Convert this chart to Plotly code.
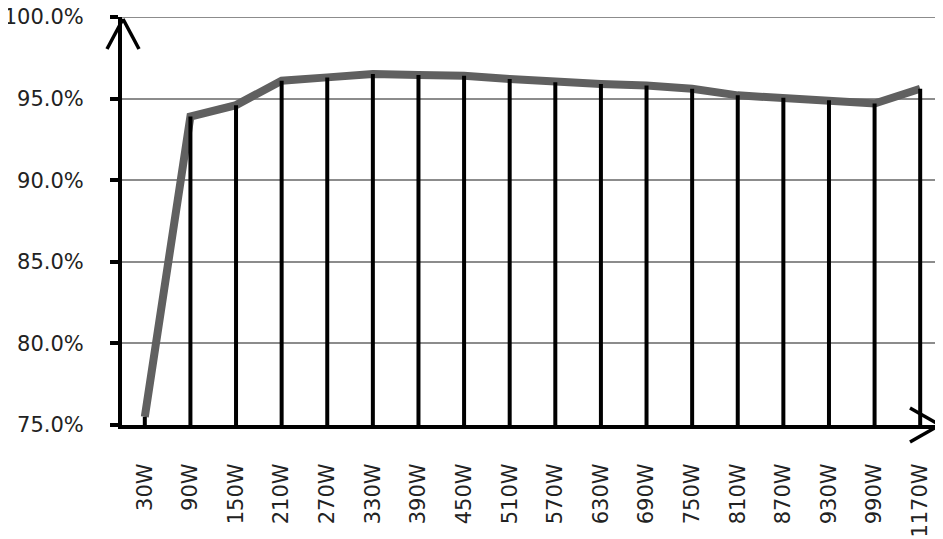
import plotly.graph_objects as go

categories = ["30W", "90W", "150W", "210W", "270W", "330W", "390W", "450W", "510W",
              "570W", "630W", "690W", "750W", "810W", "870W", "930W", "990W", "1170W"]
efficiency = [75.5, 93.9, 94.6, 96.1, 96.3, 96.5, 96.45, 96.4, 96.2,
              96.0, 95.9, 95.8, 95.6, 95.2, 95.05, 94.9, 94.7, 95.6]
y_ticks = [75, 80, 85, 90, 95, 100]
y_tick_labels = ["75.0%", "80.0%", "85.0%", "90.0%", "95.0%", "100.0%"]
y_min = 75

# page body has an 8px margin; size the figure so it fits the 943x539 window
OFF = 8
W, H = 943 - OFF, 539 - OFF
PLOT_L, PLOT_T, PLOT_R, PLOT_B = 122, 17, 943, 425   # target pixel box
L, T = PLOT_L - OFF, PLOT_T - OFF
R = W - (PLOT_R - OFF)
B = H - (PLOT_B - OFF)
pw, ph = PLOT_R - PLOT_L, PLOT_B - PLOT_T

def px(x):
    return (x - PLOT_L) / pw

def py(y):
    return (PLOT_B - y) / ph

fig = go.Figure()
fig.add_trace(go.Scatter(
    x=categories, y=efficiency, mode="lines",
    line=dict(color="#606060", width=8), showlegend=False, hoverinfo="skip",
    cliponaxis=False))
fig.add_trace(go.Scatter(
    x=categories, y=efficiency, mode="markers",
    marker=dict(size=1, color="rgba(0,0,0,0)"),
    error_y=dict(type="data", symmetric=False,
                 array=[0] * len(efficiency),
                 arrayminus=[v - y_min for v in efficiency],
                 color="black", thickness=4, width=0),
    showlegend=False, hoverinfo="skip"))

shapes = []
# top gridline (plotly drops the gridline at the range end)
shapes.append(dict(type="line", xref="paper", yref="y", layer="below",
                   x0=0, x1=1, y0=y_ticks[-1], y1=y_ticks[-1],
                   line=dict(color="#8c8c8c", width=2)))
# y-axis arrow (top)
for ex in (107, 139):
    shapes.append(dict(type="line", xref="paper", yref="paper",
                       x0=px(123), y0=py(19), x1=px(ex), y1=py(49),
                       line=dict(color="black", width=3.5)))
# x-axis arrow (right)
for ey in (408, 442):
    shapes.append(dict(type="line", xref="paper", yref="paper",
                       x0=px(940), y0=py(425), x1=px(910), y1=py(ey),
                       line=dict(color="black", width=3.5)))

fig.update_layout(
    width=W, height=H,
    margin=dict(l=L, r=R, t=T, b=B, pad=0, autoexpand=False),
    paper_bgcolor="white", plot_bgcolor="white",
    font=dict(family="DejaVu Sans", size=21, color="#222222"),
    shapes=shapes,
    xaxis=dict(type="category", range=[-0.5, 17.5], showgrid=False,
               showline=True, linecolor="black", linewidth=4,
               tickangle=-90, ticks="", ticklabelstandoff=26,
               ticklabeloverflow="allow",
               zeroline=False, fixedrange=True, automargin=False),
    yaxis=dict(range=[75, 100], tickvals=y_ticks, ticktext=y_tick_labels,
               showgrid=True, gridcolor="#8c8c8c", gridwidth=2,
               showline=True, linecolor="black", linewidth=4,
               ticks="outside", ticklen=8, tickwidth=4, tickcolor="black",
               ticklabelstandoff=22, ticklabeloverflow="allow",
               zeroline=False, fixedrange=True, automargin=False),
)
fig.write_html("out.html")
